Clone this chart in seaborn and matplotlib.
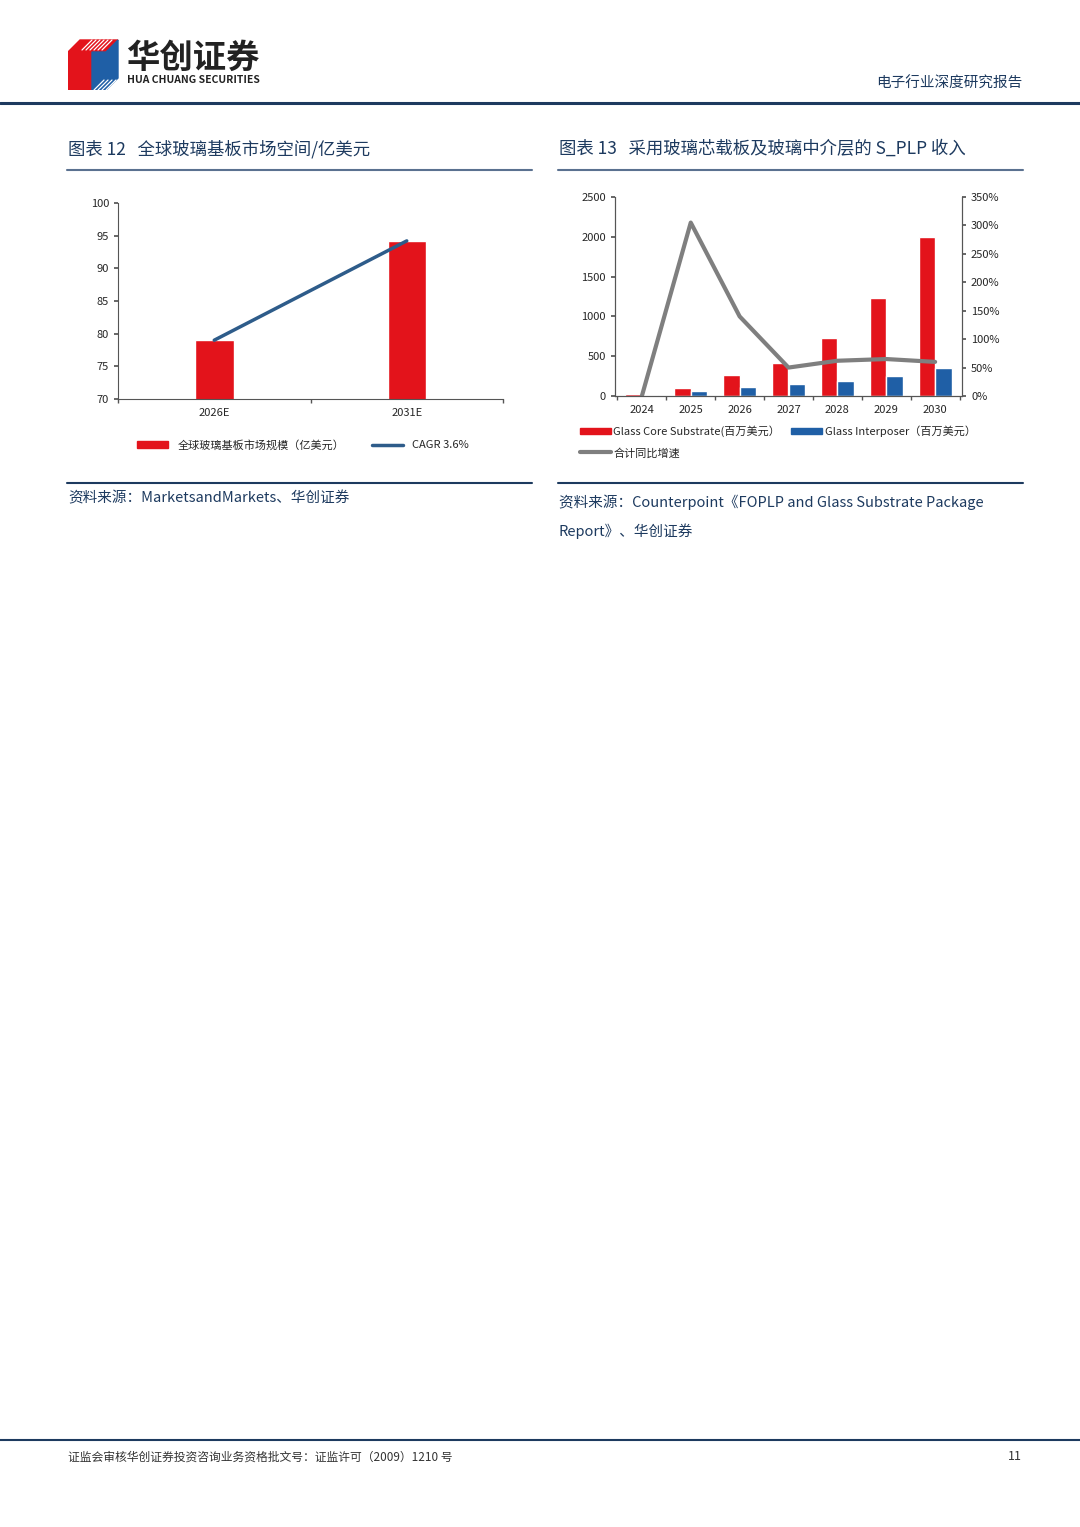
import matplotlib
matplotlib.use('Agg')
import matplotlib.pyplot as plt
import seaborn as sns
import pandas as pd
from matplotlib.patches import Polygon, Rectangle
from matplotlib.lines import Line2D

sns.set_theme(style='white')
plt.rcParams['font.family'] = ['Noto Sans CJK SC', 'DejaVu Sans']

RED = '#e3131b'
BLUE = '#1f5fa6'
NAVY = '#1d3a5f'
GREY = '#7f7f7f'

# chart 12 data
years1 = ['2026E', '2031E']
market = [79.0, 94.2]

# chart 13 data
years2 = ['2024', '2025', '2026', '2027', '2028', '2029', '2030']
glass_core = [20, 100, 265, 420, 725, 1230, 2000]
interposer = [15, 65, 115, 145, 185, 255, 355]
growth = [0, 305, 140, 50, 62, 65, 60]

W, H = 1080, 1527
fig = plt.figure(figsize=(W / 100, H / 100), dpi=100)
fig.patch.set_facecolor('white')


def fx(x):
    return x / W


def fy(y):
    return 1 - y / H


# header logo: red front, blue side, white stripes
logo = fig.add_axes([fx(68), fy(90), fx(52), 52 / H])
logo.set_xlim(0, 52)
logo.set_ylim(0, 52)
logo.axis('off')
logo.add_patch(Polygon([[0, 0], [0, 38], [12, 50], [50, 50], [38, 38], [24, 38], [24, 0]], color=RED))
logo.add_patch(Polygon([[24, 0], [24, 38], [38, 38], [50, 50], [50, 12], [38, 0]], color=BLUE))
for i in range(6):
    logo.plot([14 + i * 4, 24 + i * 4], [40, 50], color='white', lw=0.9)
    logo.plot([26 + i * 4, 36 + i * 4], [0, 10], color='white', lw=0.9)
fig.text(fx(126), fy(58), '华创证券', fontsize=24, fontweight='bold', color='#222222', va='center')
fig.text(fx(127), fy(80), 'HUA CHUANG SECURITIES', fontsize=7.5, fontweight='bold', color='#222222', va='center')
fig.text(fx(1022), fy(84), '电子行业深度研究报告', fontsize=10.5, color=NAVY, ha='right', va='center')
fig.add_artist(Line2D([0, 1], [fy(103), fy(103)], color=NAVY, lw=2.2))

# titles
fig.text(fx(68), fy(149), '图表 12   全球玻璃基板市场空间/亿美元', fontsize=12.5, color=NAVY, va='center')
fig.text(fx(559), fy(149), '图表 13   采用玻璃芯载板及玻璃中介层的 S_PLP 收入', fontsize=12.5, color=NAVY, va='center')
for x0, x1 in [(67, 532), (558, 1023)]:
    fig.add_artist(Line2D([fx(x0), fx(x1)], [fy(170), fy(170)], color='#5a7190', lw=1.5))
    fig.add_artist(Line2D([fx(x0), fx(x1)], [fy(483), fy(483)], color=NAVY, lw=1.5))

# chart 12
ax1 = fig.add_axes([fx(118), fy(399), fx(385), 196 / H])
df1 = pd.DataFrame({'year': years1, 'value': market})
sns.barplot(data=df1, x='year', y='value', color=RED, width=0.2, saturation=1, ax=ax1)
ax1.plot(range(len(years1)), market, color='#2e5c8a', lw=2.5)
ax1.set_xlim(-0.5, 1.5)
ax1.set_ylim(70, 100)
ax1.set_yticks(range(70, 101, 5))
ax1.set_xlabel('')
ax1.set_ylabel('')
for s in ['top', 'right']:
    ax1.spines[s].set_visible(False)
for s in ['left', 'bottom']:
    ax1.spines[s].set_color('#555555')
    ax1.spines[s].set_linewidth(0.8)
ax1.tick_params(axis='both', labelsize=8, length=3, color='#555555', direction='out', left=True, bottom=False)
ax1.set_xticks([-0.5, 0.5, 1.5], minor=True)
ax1.tick_params(axis='x', which='minor', length=3, bottom=True, color='#555555')
h1 = [Rectangle((0, 0), 1, 1, color=RED), Line2D([], [], color='#2e5c8a', lw=2.5)]
fig.legend(h1, ['全球玻璃基板市场规模（亿美元）', 'CAGR 3.6%'], loc='center', bbox_to_anchor=(fx(303), fy(445)),
           ncol=2, frameon=False, fontsize=8, handlelength=2.8, handleheight=0.5, columnspacing=2.5)

# chart 13
ax2 = fig.add_axes([fx(615), fy(396), fx(347), 199 / H])
df2 = pd.DataFrame({'year': years2 * 2,
                    'value': glass_core + interposer,
                    'kind': ['Glass Core Substrate(百万美元）'] * 7 + ['Glass Interposer（百万美元）'] * 7})
sns.barplot(data=df2, x='year', y='value', hue='kind', palette=[RED, BLUE], width=0.68,
            saturation=1, ax=ax2, legend=False)
ax2.set_ylim(0, 2500)
ax2.set_xlim(-0.55, 6.55)
ax2.set_xlabel('')
ax2.set_ylabel('')
ax3 = ax2.twinx()
ax3.plot(range(len(years2)), growth, color=GREY, lw=3)
ax3.set_ylim(0, 350)
ax3.set_yticks(range(0, 351, 50))
ax3.set_yticklabels([f'{v}%' for v in range(0, 351, 50)])
for a in (ax2, ax3):
    a.spines['top'].set_visible(False)
    for s in ['left', 'right', 'bottom']:
        a.spines[s].set_color('#555555')
        a.spines[s].set_linewidth(0.8)
    a.tick_params(labelsize=8, length=3, color='#555555', direction='out')
ax2.tick_params(axis='y', left=True)
ax3.tick_params(axis='y', right=True)
ax2.tick_params(axis='x', bottom=False)
ax2.set_xticks([i + 0.5 for i in range(-1, 7)], minor=True)
ax2.tick_params(axis='x', which='minor', length=3, bottom=True, color='#555555')
h2 = [Rectangle((0, 0), 1, 1, color=RED), Rectangle((0, 0), 1, 1, color=BLUE)]
fig.legend(h2, ['Glass Core Substrate(百万美元）', 'Glass Interposer（百万美元）'], loc='center left',
           bbox_to_anchor=(fx(570), fy(431)), ncol=2, frameon=False, fontsize=8,
           handlelength=2.8, handleheight=0.5, columnspacing=1.0, handletextpad=0.2)
fig.legend([Line2D([], [], color=GREY, lw=3)], ['合计同比增速'], loc='center left',
           bbox_to_anchor=(fx(570), fy(453)), frameon=False, fontsize=8, handlelength=2.8, handletextpad=0.2)

# sources
fig.text(fx(68), fy(498), '资料来源：MarketsandMarkets、华创证券', fontsize=10.5, color=NAVY, style='italic', va='center')
fig.text(fx(559), fy(502), '资料来源：Counterpoint《FOPLP and Glass Substrate Package', fontsize=10.5,
         color=NAVY, style='italic', va='center')
fig.text(fx(559), fy(531), 'Report》、华创证券', fontsize=10.5, color=NAVY, style='italic', va='center')

# footer
fig.add_artist(Line2D([0, 1], [fy(1440), fy(1440)], color=NAVY, lw=1.5))
fig.text(fx(68), fy(1457), '证监会审核华创证券投资咨询业务资格批文号：证监许可（2009）1210 号', fontsize=8.5,
         color='#333333', va='center')
fig.text(fx(1022), fy(1457), '11', fontsize=9, color='#333333', ha='right', va='center')

fig.savefig('out.png', dpi=100)
